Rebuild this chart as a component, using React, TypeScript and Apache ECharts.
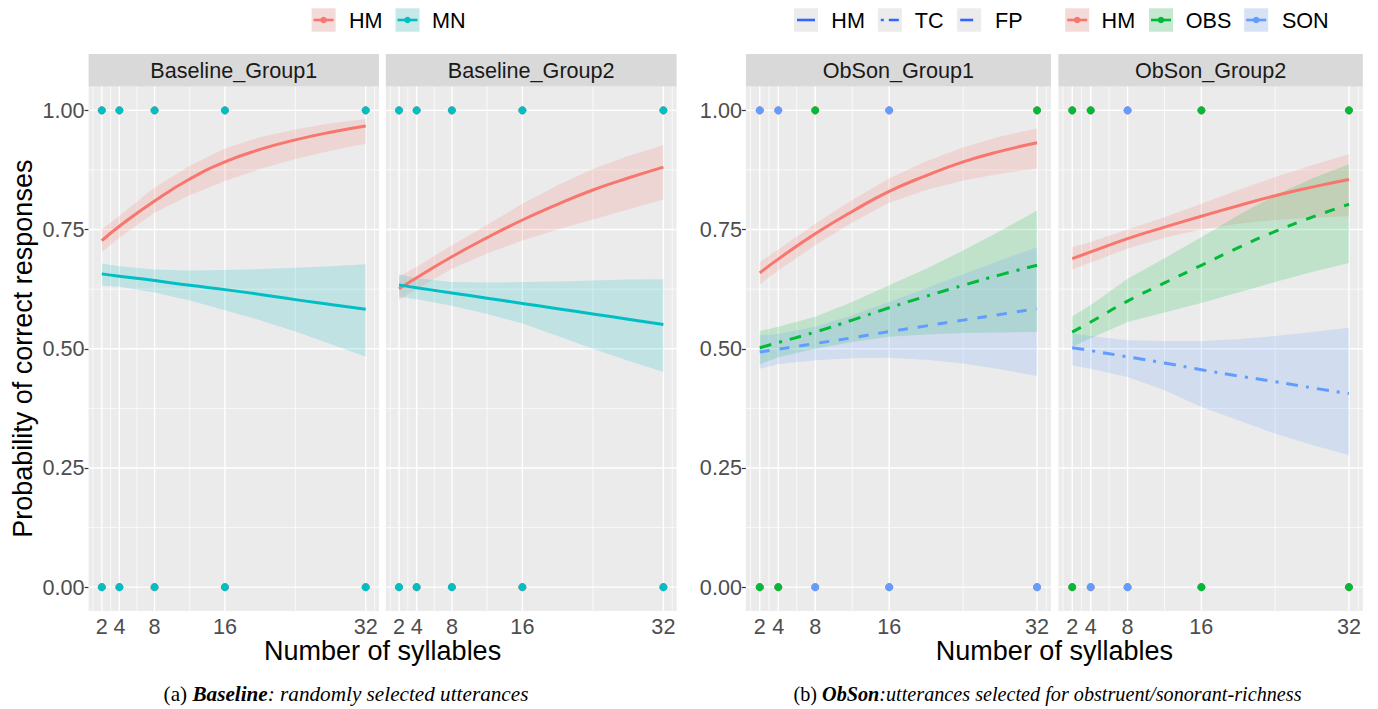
import React, { useEffect, useRef } from "react";
import * as echarts from "echarts";

// ---------- data ----------
const xs = [2, 4, 8, 12, 16, 20, 24, 28, 32];
const xTicks = [2, 4, 8, 16, 32];
const xMinor = [1, 3, 6, 12, 24, 33];
const yTicks = [0, 0.25, 0.5, 0.75, 1];
const yMinor = [0.125, 0.375, 0.625, 0.875];

const panelTitles = ["Baseline_Group1", "Baseline_Group2", "ObSon_Group1", "ObSon_Group2"];

// Baseline_Group1
const b1HM = [0.727, 0.757, 0.81, 0.856, 0.892, 0.918, 0.938, 0.954, 0.967];
const b1HMHi = [0.75, 0.779, 0.838, 0.884, 0.92, 0.944, 0.96, 0.973, 0.982];
const b1HMLo = [0.703, 0.733, 0.785, 0.822, 0.852, 0.877, 0.898, 0.915, 0.93];
const b1MN = [0.657, 0.652, 0.643, 0.633, 0.624, 0.614, 0.603, 0.593, 0.583];
const b1MNHi = [0.679, 0.673, 0.666, 0.664, 0.665, 0.667, 0.67, 0.673, 0.677];
const b1MNLo = [0.632, 0.63, 0.618, 0.601, 0.581, 0.56, 0.536, 0.51, 0.483];

// Baseline_Group2
const b2HM = [0.626, 0.649, 0.693, 0.733, 0.77, 0.803, 0.833, 0.858, 0.881];
const b2HMHi = [0.651, 0.672, 0.717, 0.76, 0.804, 0.843, 0.877, 0.904, 0.927];
const b2HMLo = [0.602, 0.625, 0.668, 0.7, 0.727, 0.75, 0.771, 0.792, 0.813];
const b2MN = [0.634, 0.628, 0.617, 0.606, 0.595, 0.584, 0.573, 0.562, 0.551];
const b2MNHi = [0.656, 0.648, 0.64, 0.639, 0.64, 0.641, 0.643, 0.645, 0.646];
const b2MNLo = [0.609, 0.604, 0.59, 0.573, 0.553, 0.527, 0.5, 0.475, 0.451];

// ObSon_Group1
const o1HM = [0.659, 0.688, 0.741, 0.788, 0.83, 0.863, 0.892, 0.914, 0.932];
const o1HMHi = [0.682, 0.708, 0.762, 0.812, 0.857, 0.893, 0.922, 0.945, 0.962];
const o1HMLo = [0.635, 0.664, 0.717, 0.765, 0.806, 0.833, 0.853, 0.867, 0.878];
const o1OBS = [0.502, 0.513, 0.535, 0.56, 0.586, 0.61, 0.633, 0.655, 0.675];
const o1OBSHi = [0.537, 0.546, 0.567, 0.598, 0.633, 0.668, 0.706, 0.747, 0.79];
const o1OBSLo = [0.467, 0.482, 0.5, 0.514, 0.525, 0.53, 0.533, 0.534, 0.535];
const o1SON = [0.493, 0.499, 0.511, 0.523, 0.536, 0.548, 0.56, 0.572, 0.584];
const o1SONHi = [0.528, 0.531, 0.546, 0.57, 0.598, 0.627, 0.656, 0.685, 0.713];
const o1SONLo = [0.458, 0.468, 0.476, 0.48, 0.481, 0.477, 0.469, 0.457, 0.443];

// ObSon_Group2
const o2HM = [0.689, 0.703, 0.731, 0.755, 0.778, 0.8, 0.821, 0.839, 0.855];
const o2HMHi = [0.713, 0.724, 0.75, 0.776, 0.804, 0.833, 0.86, 0.885, 0.908];
const o2HMLo = [0.666, 0.681, 0.71, 0.733, 0.75, 0.762, 0.77, 0.775, 0.778];
const o2OBS = [0.535, 0.556, 0.6, 0.638, 0.675, 0.712, 0.746, 0.776, 0.803];
const o2OBSHi = [0.568, 0.592, 0.647, 0.69, 0.734, 0.78, 0.822, 0.857, 0.887];
const o2OBSLo = [0.504, 0.522, 0.556, 0.576, 0.596, 0.618, 0.64, 0.661, 0.68];
const o2SON = [0.502, 0.496, 0.483, 0.47, 0.456, 0.443, 0.431, 0.418, 0.406];
const o2SONHi = [0.532, 0.527, 0.518, 0.516, 0.516, 0.52, 0.527, 0.535, 0.544];
const o2SONLo = [0.465, 0.458, 0.441, 0.413, 0.378, 0.35, 0.322, 0.298, 0.277];

// observed responses (x values with response 1 / 0)
const allX = [2, 4, 8, 16, 32];
const b1MNOnes = [2, 4, 8, 16, 32];
const b1MNZeros = [2, 4, 8, 16, 32];
const b2MNOnes = [2, 4, 8, 16, 32];
const b2MNZeros = [2, 4, 8, 16, 32];
const o1OBSOnes = [8, 32];
const o1OBSZeros = [2, 4];
const o1SONOnes = [2, 4, 16];
const o1SONZeros = [8, 16, 32];
const o2OBSOnes = [2, 4, 16, 32];
const o2OBSZeros = [2, 16, 32];
const o2SONOnes = [8];
const o2SONZeros = [4, 8];

// ---------- styles ----------
const C_HM = "#F8766D";
const C_MN = "#00BFC4";
const C_OBS = "#00BA38";
const C_SON = "#619CFF";
const C_LT = "#3366FF";
const RIB_A = 0.18;
const FONT = "Liberation Sans, Arial, sans-serif";
const SERIF = "Liberation Serif, Times New Roman, serif";
const DOTDASH = [12, 8, 3, 8];
const DASHED = [10, 10];

const gridsPx = [
  { left: 88.6, top: 86.5, width: 290.3, height: 524.5 },
  { left: 385.8, top: 86.5, width: 290.8, height: 524.5 },
  { left: 745.9, top: 86.5, width: 305, height: 524.5 },
  { left: 1058.4, top: 86.5, width: 304.4, height: 524.5 },
];

function rgba(hex: string, a: number) {
  const n = parseInt(hex.slice(1), 16);
  return `rgba(${(n >> 16) & 255},${(n >> 8) & 255},${n & 255},${a})`;
}

function gridSeries(i: number) {
  return {
    type: "custom",
    xAxisIndex: i,
    yAxisIndex: i,
    z: 1,
    silent: true,
    data: [[2, 0.5]],
    renderItem: (_p: any, api: any) => {
      const ch: any[] = [];
      const vline = (v: number, w: number) => {
        const a = api.coord([v, -0.05]);
        const b = api.coord([v, 1.05]);
        ch.push({ type: "line", shape: { x1: a[0], y1: a[1], x2: b[0], y2: b[1] }, style: { stroke: "#FFFFFF", lineWidth: w } });
      };
      const hline = (v: number, w: number) => {
        const a = api.coord([0.5, v]);
        const b = api.coord([33.5, v]);
        ch.push({ type: "line", shape: { x1: a[0], y1: a[1], x2: b[0], y2: b[1] }, style: { stroke: "#FFFFFF", lineWidth: w } });
      };
      xMinor.forEach((v) => vline(v, 0.7));
      yMinor.forEach((v) => hline(v, 0.7));
      xTicks.forEach((v) => vline(v, 1.4));
      yTicks.forEach((v) => hline(v, 1.4));
      return { type: "group", children: ch };
    },
  };
}

function ribbon(i: number, lo: number[], hi: number[], color: string) {
  return {
    type: "custom",
    xAxisIndex: i,
    yAxisIndex: i,
    z: 2,
    silent: true,
    data: [[2, 0.5]],
    renderItem: (_p: any, api: any) => {
      const pts: number[][] = [];
      for (let k = 0; k < xs.length; k++) pts.push(api.coord([xs[k], hi[k]]));
      for (let k = xs.length - 1; k >= 0; k--) pts.push(api.coord([xs[k], lo[k]]));
      return { type: "polygon", shape: { points: pts }, style: { fill: rgba(color, RIB_A) } };
    },
  };
}

function fitLine(i: number, vals: number[], color: string, dash: any) {
  return {
    type: "line",
    xAxisIndex: i,
    yAxisIndex: i,
    z: 3,
    silent: true,
    smooth: 0.5,
    showSymbol: false,
    symbol: "none",
    data: xs.map((x, k) => [x, vals[k]]),
    lineStyle: { color, width: 3, type: dash },
  };
}

function points(i: number, ones: number[], zeros: number[], color: string, z: number) {
  return {
    type: "scatter",
    xAxisIndex: i,
    yAxisIndex: i,
    z,
    silent: true,
    symbolSize: 8,
    data: ones.map((x) => [x, 1]).concat(zeros.map((x) => [x, 0])),
    itemStyle: { color, opacity: 1 },
  };
}

function legendColorKey(x: number, color: string) {
  const y = 8.3;
  return {
    type: "group",
    children: [
      { type: "rect", shape: { x, y, width: 24, height: 23.4 }, style: { fill: "#F2F2F2" } },
      { type: "rect", shape: { x, y, width: 24, height: 23.4 }, style: { fill: rgba(color, RIB_A) } },
      { type: "line", shape: { x1: x + 2, y1: y + 11.7, x2: x + 22, y2: y + 11.7 }, style: { stroke: color, lineWidth: 2.6 } },
      { type: "circle", shape: { cx: x + 12, cy: y + 11.7, r: 3.3 }, style: { fill: color } },
    ],
  };
}

function legendLtKey(x: number, dash: any) {
  const y = 8.3;
  return {
    type: "group",
    children: [
      { type: "rect", shape: { x, y, width: 24, height: 23.4 }, style: { fill: "#EBEBEB" } },
      { type: "line", shape: { x1: x + 3, y1: y + 11.7, x2: x + 21, y2: y + 11.7 }, style: { stroke: C_LT, lineWidth: 2.6, lineDash: dash } },
    ],
  };
}

function legendText(x: number, t: string) {
  return { type: "text", style: { x, y: 20.5, text: t, font: `21.6px ${FONT}`, fill: "#000000", verticalAlign: "middle", align: "left" } };
}

function caption(x: number, size: number, label: string, bold: string, rest: string) {
  return {
    type: "text",
    style: {
      x,
      y: 694,
      align: "center",
      verticalAlign: "middle",
      text: `{r|${label}}{b|${bold}}{i|${rest}}`,
      rich: {
        r: { fontFamily: SERIF, fontSize: size, fill: "#000" },
        b: { fontFamily: SERIF, fontSize: size, fontWeight: "bold", fontStyle: "italic", fill: "#000" },
        i: { fontFamily: SERIF, fontSize: size, fontStyle: "italic", fill: "#000" },
      },
    },
  };
}

export default function App() {
  const ref = useRef<HTMLDivElement>(null);
  useEffect(() => {
    if (!ref.current) return;
    const chart = echarts.init(ref.current, undefined, { renderer: "svg" });

    const grid = gridsPx.map((g) => ({
      ...g,
      show: true,
      backgroundColor: "#EBEBEB",
      borderWidth: 0,
      containLabel: false,
      outerBoundsMode: "none",
    }));

    const xAxis = gridsPx.map((_, i) => ({
      type: "value",
      gridIndex: i,
      min: 0.5,
      max: 33.5,
      axisLine: { show: false },
      splitLine: { show: false },
      axisTick: { show: true, customValues: xTicks, length: 4, lineStyle: { color: "#333333", width: 1.2 } },
      axisLabel: { show: true, customValues: xTicks, fontSize: 21.6, color: "#4D4D4D", fontFamily: FONT, margin: 4 },
    }));

    const yAxis = gridsPx.map((_, i) => ({
      type: "value",
      gridIndex: i,
      min: -0.05,
      max: 1.05,
      axisLine: { show: false },
      splitLine: { show: false },
      axisTick: { show: i === 0 || i === 2, customValues: yTicks, length: 4, lineStyle: { color: "#333333", width: 1.2 } },
      axisLabel: {
        show: i === 0 || i === 2,
        customValues: yTicks,
        fontSize: 21.6,
        color: "#4D4D4D",
        fontFamily: FONT,
        margin: 4,
        formatter: (v: number) => v.toFixed(2),
      },
    }));

    const series: any[] = [];
    for (let i = 0; i < 4; i++) series.push(gridSeries(i));
    // Baseline
    series.push(ribbon(0, b1HMLo, b1HMHi, C_HM), ribbon(0, b1MNLo, b1MNHi, C_MN));
    series.push(fitLine(0, b1HM, C_HM, "solid"), fitLine(0, b1MN, C_MN, "solid"));
    series.push(points(0, allX, allX, C_HM, 4), points(0, b1MNOnes, b1MNZeros, C_MN, 5));
    series.push(ribbon(1, b2HMLo, b2HMHi, C_HM), ribbon(1, b2MNLo, b2MNHi, C_MN));
    series.push(fitLine(1, b2HM, C_HM, "solid"), fitLine(1, b2MN, C_MN, "solid"));
    series.push(points(1, allX, allX, C_HM, 4), points(1, b2MNOnes, b2MNZeros, C_MN, 5));
    // ObSon
    series.push(ribbon(2, o1HMLo, o1HMHi, C_HM), ribbon(2, o1OBSLo, o1OBSHi, C_OBS), ribbon(2, o1SONLo, o1SONHi, C_SON));
    series.push(fitLine(2, o1HM, C_HM, "solid"), fitLine(2, o1OBS, C_OBS, DOTDASH), fitLine(2, o1SON, C_SON, DASHED));
    series.push(points(2, allX, allX, C_HM, 4), points(2, o1OBSOnes, o1OBSZeros, C_OBS, 5), points(2, o1SONOnes, o1SONZeros, C_SON, 6));
    series.push(ribbon(3, o2HMLo, o2HMHi, C_HM), ribbon(3, o2OBSLo, o2OBSHi, C_OBS), ribbon(3, o2SONLo, o2SONHi, C_SON));
    series.push(fitLine(3, o2HM, C_HM, "solid"), fitLine(3, o2OBS, C_OBS, DASHED), fitLine(3, o2SON, C_SON, DOTDASH));
    series.push(points(3, allX, allX, C_HM, 4), points(3, o2OBSOnes, o2OBSZeros, C_OBS, 5), points(3, o2SONOnes, o2SONZeros, C_SON, 6));

    const graphic: any[] = [];
    // strips
    gridsPx.forEach((g, i) => {
      graphic.push({ type: "rect", shape: { x: g.left, y: 54, width: g.width, height: 32.5 }, style: { fill: "#D9D9D9" } });
      graphic.push({
        type: "text",
        style: { x: g.left + g.width / 2, y: 70.5, text: panelTitles[i], font: `21.6px ${FONT}`, fill: "#1A1A1A", align: "center", verticalAlign: "middle" },
      });
    });
    // axis titles
    graphic.push({ type: "text", style: { x: 382.6, y: 651, text: "Number of syllables", font: `27px ${FONT}`, fill: "#000000", align: "center", verticalAlign: "middle" } });
    graphic.push({ type: "text", style: { x: 1054.4, y: 651, text: "Number of syllables", font: `27px ${FONT}`, fill: "#000000", align: "center", verticalAlign: "middle" } });
    graphic.push({
      type: "text",
      x: 22.5,
      y: 348.7,
      rotation: Math.PI / 2,
      style: { x: 0, y: 0, text: "Probability of correct responses", font: `27px ${FONT}`, fill: "#000000", align: "center", verticalAlign: "middle" },
    });
    // captions
    graphic.push(caption(346, 21.2, "(a) ", "Baseline", ": randomly selected utterances"));
    graphic.push(caption(1047.5, 20.2, "(b) ", "ObSon", ":utterances selected for obstruent/sonorant-richness"));
    // legends
    graphic.push(legendColorKey(311.6, C_HM), legendText(349, "HM"));
    graphic.push(legendColorKey(395.5, C_MN), legendText(432, "MN"));
    graphic.push(legendLtKey(794, []), legendText(831.3, "HM"));
    graphic.push(legendLtKey(877.8, [3, 5, 10, 20]), legendText(914.7, "TC"));
    graphic.push(legendLtKey(957.2, [13, 20]), legendText(995, "FP"));
    graphic.push(legendColorKey(1065.2, C_HM), legendText(1101.6, "HM"));
    graphic.push(legendColorKey(1149, C_OBS), legendText(1185.8, "OBS"));
    graphic.push(legendColorKey(1244.2, C_SON), legendText(1281.9, "SON"));

    chart.setOption({
      animation: false,
      backgroundColor: "#FFFFFF",
      grid,
      xAxis,
      yAxis,
      series,
      graphic,
    });
    return () => chart.dispose();
  }, []);
  return <div ref={ref} style={{ position: "absolute", left: 0, top: 0, width: 1378, height: 709 }} />;
}
